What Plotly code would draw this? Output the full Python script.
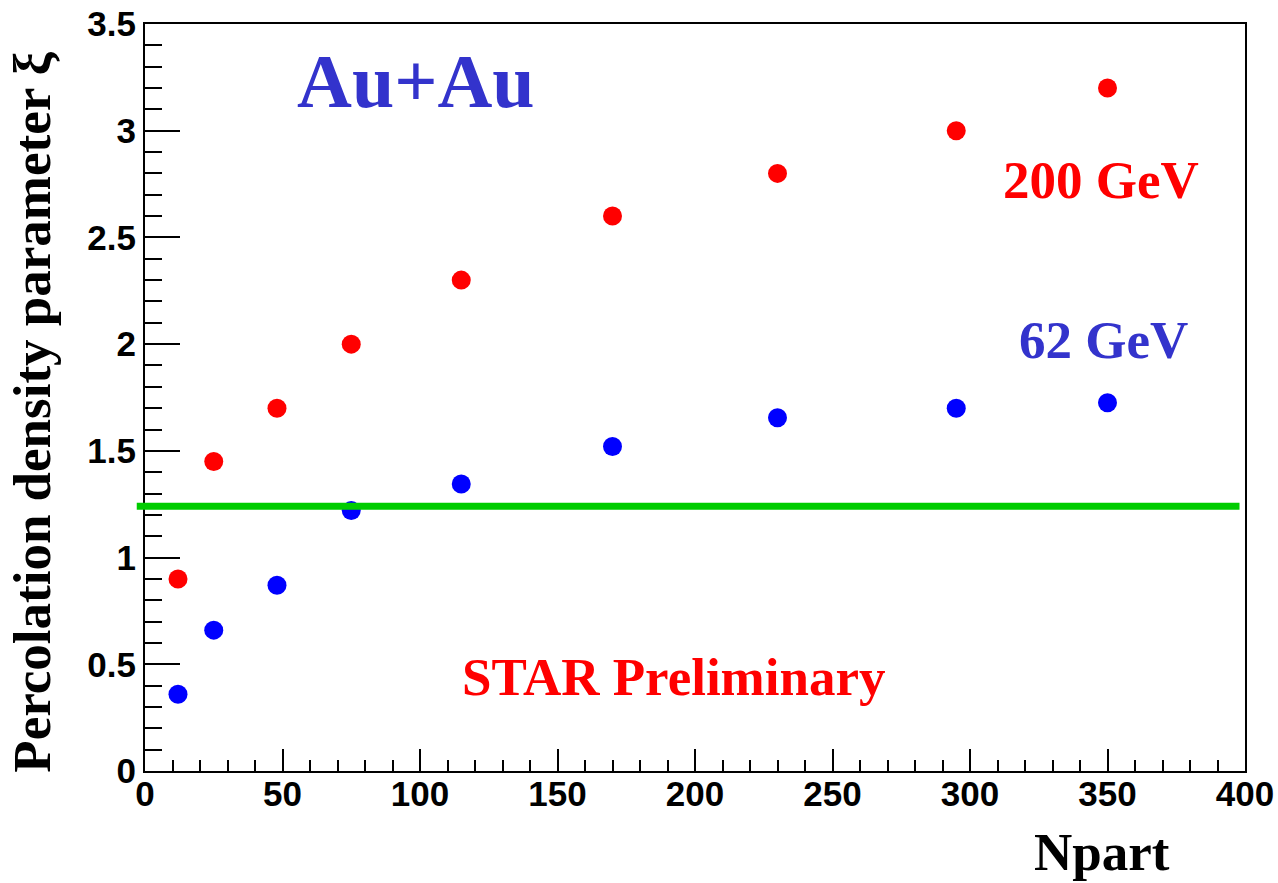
import plotly.graph_objects as go

npart = [12, 25, 48, 75, 115, 170, 230, 295, 350]
xi_200 = [0.90, 1.45, 1.70, 2.00, 2.30, 2.60, 2.80, 3.00, 3.20]
xi_62 = [0.36, 0.66, 0.87, 1.22, 1.345, 1.52, 1.655, 1.70, 1.725]
threshold = 1.24
threshold_x = [-3, 398]
x_range = [0, 400]
y_range = [0, 3.5]

SERIF = "Liberation Serif"
SANS = "Liberation Sans"

fig = go.Figure()
fig.add_trace(go.Scatter(x=npart, y=xi_200, mode="markers",
                         marker=dict(color="#ff0000", size=19, symbol="circle"),
                         showlegend=False))
fig.add_trace(go.Scatter(x=npart, y=xi_62, mode="markers",
                         marker=dict(color="#0000ff", size=19, symbol="circle"),
                         showlegend=False))

# threshold line (extends slightly beyond the left axis, like the reference)
span = x_range[1] - x_range[0]
fig.add_shape(type="line", xref="paper", yref="y",
              x0=(threshold_x[0] - x_range[0]) / span, x1=(threshold_x[1] - x_range[0]) / span,
              y0=threshold, y1=threshold,
              line=dict(color="#00cc00", width=7), layer="above")

axis_common = dict(showline=True, linecolor="black", linewidth=2, mirror=True,
                   showgrid=False, zeroline=False, ticks="inside", automargin=False,
                   tickcolor="black", tickwidth=2,
                   tickfont=dict(family=SANS, size=35, color="black", weight="bold"))

fig.update_xaxes(range=x_range, dtick=50, tick0=0, ticklen=22,
                 ticklabelstandoff=-9,
                 minor=dict(dtick=10, ticklen=11, ticks="inside", tickcolor="black", tickwidth=2),
                 **axis_common)
fig.update_yaxes(range=y_range, ticklen=35,
                 tickvals=[0, 0.5, 1, 1.5, 2, 2.5, 3, 3.5],
                 ticktext=["0", "0.5", "1", "1.5", "2", "2.5", "3", "3.5"],
                 ticklabelstandoff=0,
                 minor=dict(dtick=0.1, ticklen=17, ticks="inside", tickcolor="black", tickwidth=2),
                 **axis_common)

def ann(text, x, y, size, color):
    fig.add_annotation(text=text, x=x, y=y, xref="x", yref="y", showarrow=False,
                       xanchor="center", yanchor="middle",
                       font=dict(family=SERIF, size=size, color=color, weight="bold"))

ann("Au+Au", 98.5, 3.235, 76, "#3333cc")
ann("200 GeV", 347.5, 2.77, 53, "#ff0000")
ann("62 GeV", 348.5, 2.02, 53, "#3333cc")
ann("STAR Preliminary", 192, 0.44, 53, "#ff0000")

fig.add_annotation(text="Npart", xref="paper", yref="paper", x=0.870, y=-0.108,
                   xanchor="center", yanchor="middle", showarrow=False,
                   font=dict(family=SERIF, size=53, color="black", weight="bold"))
fig.add_annotation(text="Percolation density parameter ξ", xref="paper", yref="paper",
                   x=-0.1025, y=0.48, textangle=-90, showarrow=False,
                   xanchor="center", yanchor="middle",
                   font=dict(family=SERIF, size=53, color="black", weight="bold"))

fig.update_layout(width=1278, height=883, paper_bgcolor="white", plot_bgcolor="white",
                  margin=dict(l=145, r=33, t=24, b=112))

fig.write_html("out.html")
